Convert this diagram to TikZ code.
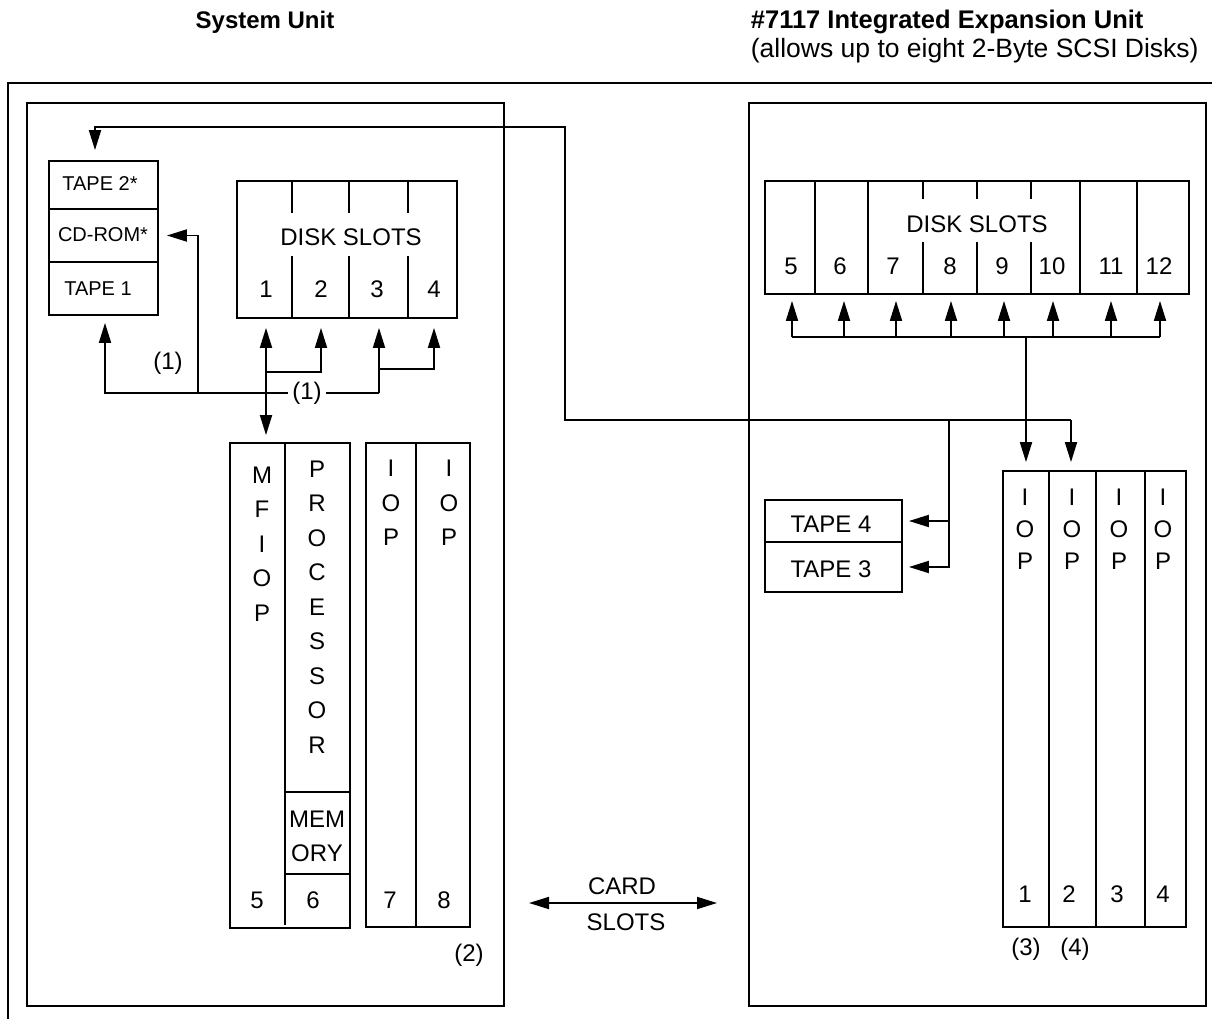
\documentclass[tikz,border=0pt]{standalone}
\usepackage{fontspec}
\setmainfont{Liberation Sans}
\usetikzlibrary{arrows.meta,fit}
\newcommand{\panel}[5]{\node[draw,fit={(#2,#3) (#4,#5)}] (#1) {};}
\newcommand{\cell}[8][]{\node[draw,fit={(#3,#4) (#5,#6)}] (#2) {}; \node[#1] (#2t) at (#7) {#8};}
\newcommand{\divider}[3]{\draw (#1,#2) -- (#1,#3);}
\newcommand{\hdivider}[3]{\draw (#2,#1) -- (#3,#1);}
\begin{document}
\begin{tikzpicture}[x=1pt,y=-1pt,line width=1.8pt,
    every node/.style={inner sep=0pt,font=\fontsize{24}{28}\selectfont},
    small/.style={font=\fontsize{20}{24}\selectfont},
    title/.style={font=\bfseries\fontsize{25.5}{30}\selectfont},
    stack/.style={align=center,font=\fontsize{24}{34.5}\selectfont},
    feed/.style={-{Triangle[length=20pt,width=12pt]},shorten >=7pt},
    feeds/.style={{Triangle[length=20pt,width=12pt]}-{Triangle[length=20pt,width=12pt]},shorten <=9pt,shorten >=7pt}]
    \useasboundingbox (0,0) rectangle (1212,1019);
    \node[title,anchor=base,font=\bfseries\fontsize{24}{28}\selectfont] (sysT) at (265,29) {System Unit};
    \node[title,anchor=base west] (expT) at (750,29) {\#7117 Integrated Expansion Unit};
    \node[anchor=base west,font=\fontsize{26.5}{30}\selectfont] (expS) at (750,58) {(allows up to eight 2-Byte SCSI Disks)};
    \draw (8,1019) -- (8,83) -- (1212,83);
    \panel{sysU}{27}{103}{504}{1006}    \panel{expU}{749}{103}{1206}{1006}
    % system unit
    \cell[small]{tapeB}{49}{161}{158}{209}{100,184}{TAPE 2*}
    \cell[small]{cdrom}{49}{209}{158}{262}{103,235}{CD-ROM*}
    \cell[small]{tapeA}{49}{262}{158}{315}{98,289}{TAPE 1}
    \panel{dskL}{237}{181}{457}{318}
    \foreach \x in {292,349,408} {\divider{\x}{181}{213}\divider{\x}{256}{318}}
    \node (dskLt) at (351,237) {DISK SLOTS};
    \foreach \n/\x in {1/266,2/321,3/377,4/434} \node (dl\n) at (\x,289) {\n};
    \panel{cardL}{230}{443}{350}{928}    \divider{285}{443}{925}
    \hdivider{792}{285}{350}    \hdivider{874}{285}{350}
    \node[stack] (mfiop) at (262,544) {M\\F\\I\\O\\P};
    \node[stack] (proc) at (317,607) {P\\R\\O\\C\\E\\S\\S\\O\\R};
    \node[stack,font=\fontsize{24}{34}\selectfont] (mem) at (317,836) {MEM\\ORY};
    \node (cs5) at (257,900) {5}; \node (cs6) at (313,900) {6};
    \panel{iopL}{366}{443}{470}{927}    \divider{416}{443}{927}
    \node[stack] (iop7) at (391,503) {I\\O\\P}; \node[stack] (iop8) at (449,503) {I\\O\\P};
    \node (cs7) at (390,900) {7}; \node (cs8) at (444,900) {8};
    \node (nt2) at (469,955) {(2)};
    \coordinate (bL) at (105,393); \coordinate (bC) at (198,393); \coordinate (bR) at (379,393);
    \coordinate (j1) at (266,372); \coordinate (j3) at (379,369);
    \draw[feeds] (dl1 |- dskL.south) -- (dl1 |- cardL.north);
    \draw[feed,shorten >=9pt] (j1) -| (dl2 |- dskL.south);
    \draw[feed] (bR) -- (bL) -- (bL |- tapeA.south);
    \draw[feed,shorten >=8pt] (bC) |- (cdrom.east);
    \draw[feed,shorten >=9pt] (bR) -- (bR |- dskL.south);
    \draw[feed,shorten >=9pt] (j3) -| (dl4 |- dskL.south);
    \node[fill=white,inner xsep=4pt] (n1b) at (307,393) {(1)};
    \node (n1a) at (168,363) {(1)};
    % expansion unit
    \panel{dskR}{765}{181}{1189}{294}
    \foreach \x in {815,868,1080,1137} \divider{\x}{181}{294};
    \foreach \x in {923,977,1031} {\divider{\x}{181}{199}\divider{\x}{242}{294}}
    \node (dskRt) at (977,224) {DISK SLOTS};
    \cell{tape4}{765}{500}{902}{542}{831,524}{TAPE 4}
    \cell{tape3}{765}{542}{902}{592}{831,569}{TAPE 3}
    \panel{iopR}{1003}{471}{1186}{927}
    \foreach \x in {1049,1096,1145} \divider{\x}{471}{927};
    \foreach \n/\x/\c in {1/1025/1025,2/1072/1069,3/1119/1117,4/1163/1163} {
        \node[stack,font=\fontsize{24}{32}\selectfont] (iopR\n) at (\x,529) {I\\O\\P};
        \node (ec\n) at (\c,894) {\n};}
    \node (nt3) at (1026,949) {(3)}; \node (nt4) at (1075,949) {(4)};
    \foreach \n/\x/\a in {5/791/792,6/840/844,7/893/896,8/950/951,9/1002/1004,10/1052/1053,11/1111/1111,12/1159/1160} {
        \node (dr\n) at (\x,266) {\n};
        \coordinate (bus\n) at (\a,337);
        \draw[feed,shorten >=6pt] (bus\n) -- (bus\n |- dskR.south);}
    \draw (bus5) -- (bus12);
    \coordinate (bT) at (1026,337);
    \draw[feed,shorten >=8pt] (bT) -- (bT |- iopR.north);
    % link between the units
    \coordinate (tL) at (95,127); \coordinate (tM) at (565,127); \coordinate (tN) at (565,420);
    \coordinate (tT) at (949,420); \coordinate (tR) at (1071,420);
    \draw[feed,shorten >=10pt] (tR) -- (tN) -- (tM) -- (tL) -- (tL |- tapeB.north);
    \draw[feed,shorten >=8pt] (tR) -- (tR |- iopR.north);
    \draw[feed,shorten >=6pt] (tT) |- (tape4.east);
    \draw[feed,shorten >=6pt] (tT) |- (tape3.east);
    \coordinate (cW) at (529,903); \coordinate (cE) at (717,903);
    \draw[feeds,shorten <=0pt,shorten >=0pt] (cW) -- (cE);
    \node (cardT) at (622,886) {CARD}; \node (slotT) at (626,922) {SLOTS};
\end{tikzpicture}
\end{document}
